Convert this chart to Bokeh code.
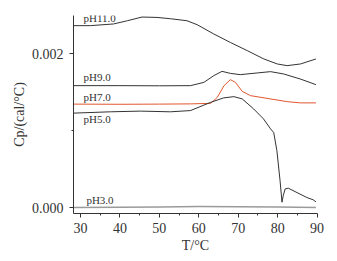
from bokeh.plotting import figure
from bokeh.models import FixedTicker, PrintfTickFormatter, Range1d
from bokeh.core.properties import value
from bokeh.embed import file_html
from bokeh.resources import INLINE

# ---- data ----
t_ph11 = [28.3, 32.5, 38.4, 41.9, 45.6, 49.4, 52.8, 57.0, 59.6, 63.8, 68.0, 72.3, 76.5, 79.9, 82.4, 85.8, 89.7]
c_ph11 = [0.002368, 0.002368, 0.00239, 0.002432, 0.00248, 0.002475, 0.002458, 0.002432, 0.00238, 0.00226,
          0.00215, 0.002043, 0.001935, 0.00187, 0.001848, 0.00187, 0.001935]

t_ph9 = [28.3, 40.0, 50.0, 57.9, 61.3, 63.8, 65.9, 68.0, 70.5, 74.8, 78.2, 81.5, 85.7, 89.7]
c_ph9 = [0.001588, 0.001588, 0.001586, 0.001588, 0.001631, 0.001718, 0.001774, 0.001748, 0.001731, 0.001753,
         0.00177, 0.00174, 0.001675, 0.001601]

t_ph7 = [28.3, 40.0, 50.0, 57.9, 63.0, 64.7, 66.4, 68.0, 69.3, 71.0, 73.1, 77.3, 82.4, 85.8, 89.7]
c_ph7 = [0.001348, 0.001346, 0.001348, 0.001351, 0.001358, 0.001436, 0.001588, 0.001666, 0.001631, 0.001514,
         0.001458, 0.001423, 0.00138, 0.001364, 0.001364]

t_ph5 = [28.3, 37.6, 45.2, 52.8, 57.9, 63.0, 66.3, 68.9, 71.0, 73.9, 76.4, 78.2, 79.0, 79.8, 80.6, 81.1,
         81.4, 81.9, 82.7, 84.9, 87.4, 89.0, 89.7]
c_ph5 = [0.001231, 0.001248, 0.001257, 0.001248, 0.001264, 0.001371, 0.001429, 0.001445, 0.001416, 0.001286,
         0.001156, 0.001026, 0.000978, 0.000744, 0.000355, 0.000073, 0.000156, 0.000246, 0.000255, 0.000198,
         0.000134, 0.000104, 0.000078]

t_ph3 = [28.3, 40.0, 50.0, 60.0, 70.0, 80.0, 89.7]
c_ph3 = [0.000004, 0.000006, 0.000012, 0.000016, 0.000014, 0.000010, 0.000004]

series_names = ["pH11.0", "pH9.0", "pH7.0", "pH5.0", "pH3.0"]
label_x = [30.76, 30.76, 30.76, 30.76, 31.5]
label_y = [0.002471, 0.001705, 0.001436, 0.00116, 0.000108]

x_ticks = [30, 40, 50, 60, 70, 80, 90]
x_minor = [35, 45, 55, 65, 75, 85]
y_ticks = [0.0, 0.002]
y_minor = [0.001]

x_title = "T/°C"
y_title = "Cp/(cal/°C)"

SERIF = "Liberation Serif"
INK = "#333333"

p = figure(width=337, height=261, output_backend="svg", toolbar_location=None,
           x_range=Range1d(28.23, 90.1), y_range=Range1d(-0.000074, 0.0025),
           min_border_left=73, min_border_right=20, min_border_top=15, min_border_bottom=48)
p.outline_line_color = None
p.grid.grid_line_color = None
p.background_fill_color = "white"
p.border_fill_color = "white"

lines = [(t_ph11, c_ph11, INK, 1.0), (t_ph9, c_ph9, INK, 1.0), (t_ph7, c_ph7, "#e2562e", 1.0),
         (t_ph5, c_ph5, INK, 1.0), (t_ph3, c_ph3, "#9a9a9a", 1.5)]
for tx, cy, col, lw in lines:
    p.line(tx, cy, line_color=col, line_width=lw, line_join="round")

p.text(x=label_x, y=label_y, text=series_names, text_font=value(SERIF),
       text_font_size="11px", text_color=INK, text_baseline="middle", text_align="left")

for ax in (p.xaxis[0], p.yaxis[0]):
    ax.axis_line_color = INK
    ax.major_tick_line_color = INK
    ax.minor_tick_line_color = INK
    ax.major_tick_in = 0
    ax.major_tick_out = 4
    ax.minor_tick_in = 0
    ax.minor_tick_out = 2
    ax.major_label_text_font = SERIF
    ax.major_label_text_font_size = "14px"
    ax.major_label_text_color = INK
    ax.axis_label_text_font = SERIF
    ax.axis_label_text_font_size = "14px"
    ax.axis_label_text_font_style = "normal"
    ax.axis_label_text_color = INK

p.xaxis.ticker = FixedTicker(ticks=x_ticks, minor_ticks=x_minor)
p.yaxis.ticker = FixedTicker(ticks=y_ticks, minor_ticks=y_minor)
p.yaxis.formatter = PrintfTickFormatter(format="%.3f")
p.xaxis.major_label_standoff = 5
p.yaxis.major_label_standoff = 6
p.xaxis.axis_label = x_title
p.yaxis.axis_label = y_title
p.xaxis.axis_label_standoff = 2
p.yaxis.axis_label_standoff = 2

open("out.html", "w").write(file_html(p, INLINE))
